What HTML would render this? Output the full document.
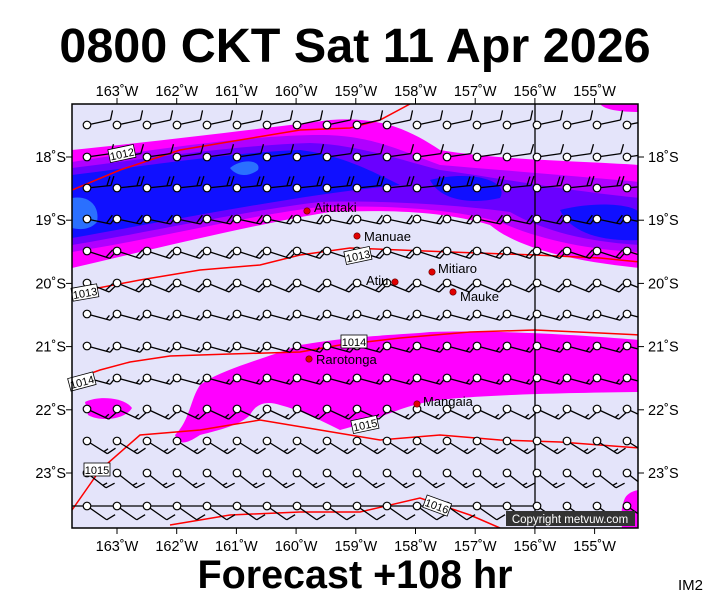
<!DOCTYPE html>
<html><head><meta charset="utf-8"><style>
body{margin:0;background:#fff;width:711px;height:600px;overflow:hidden;font-family:"Liberation Sans",sans-serif}
</style></head><body>
<svg id="s" width="711" height="600" xmlns="http://www.w3.org/2000/svg" font-family="Liberation Sans, sans-serif">
<defs><clipPath id="c"><rect x="72" y="104" width="566" height="424"/></clipPath></defs>
<text x="355" y="62" text-anchor="middle" font-size="48.5" font-weight="bold">0800 CKT Sat 11 Apr 2026</text>
<rect x="72" y="104" width="566" height="424" fill="#e4e4fa"/>
<g clip-path="url(#c)">
<path fill="#ff00ff" d="M72,150 C150,142 250,130 330,120 C380,116 410,130 440,150 C500,160 560,160 640,165 L640,268 C580,262 520,250 490,225 C440,210 380,210 330,212 C250,225 150,250 72,268Z"/>
<path fill="#b000ff" d="M72,162 C150,150 250,135 320,135 C370,135 400,150 440,165 C500,170 560,175 640,182 L640,252 C590,250 540,240 500,222 C450,208 380,205 320,207 C250,215 150,240 72,252Z"/>
<path fill="#6a00ff" d="M72,168 C150,158 240,145 310,143 C360,145 400,160 440,170 C500,178 560,190 640,198 L640,245 C590,242 545,232 510,212 C460,205 380,200 320,202 C250,210 150,232 72,245Z"/>
<path fill="#1010ff" d="M72,175 C150,165 240,152 300,150 C340,155 370,170 400,185 C300,195 200,215 72,238Z"/>
<path fill="#1010ff" d="M430,180 C470,170 510,180 500,198 C470,205 440,200 430,180Z"/>
<path fill="#1010ff" d="M560,210 C600,200 640,205 640,215 L640,240 C600,242 570,232 560,210Z"/>
<path fill="#2a70ff" d="M72,198 C90,195 100,207 97,222 C90,230 80,230 72,228Z"/>
<path fill="#2a70ff" d="M230,168 C242,158 262,160 258,170 C250,176 238,178 230,168Z"/>
<path fill="#ff00ff" d="M600,104 L640,104 L640,112 C620,112 605,110 600,104Z"/>
<path fill="#ff00ff" d="M175,435 C190,420 190,400 200,385 C220,370 260,360 300,345 C360,335 400,335 430,332 C500,330 580,335 640,340 L640,392 C560,393 480,395 440,400 C400,405 380,420 340,430 C320,420 300,410 280,405 C265,400 255,405 250,415 C240,425 220,430 200,435 C185,445 178,445 175,435Z"/>
<path fill="#ff00ff" d="M85,402 C100,395 125,398 132,408 C125,420 100,422 88,415Z"/>
<path fill="#ff00ff" d="M625,498 C630,490 640,490 640,490 L640,528 L622,528 C620,515 622,505 625,498Z"/>
<g fill="none" stroke="#ff0000" stroke-width="1.5">
<path d="M72,190 L120,170 L180,150 L240,140 L300,130 L350,128 L380,120 L410,104"/>
<path d="M72,293 L140,280 L200,270 L260,265 L300,255 L350,248 L400,250 L450,252 L535,255 L600,258 L640,262"/>
<path d="M72,380 L100,370 L130,362 L170,356 L230,354 L300,352 L340,345 L400,338 L470,332 L535,330 L600,333 L640,335"/>
<path d="M72,510 L100,470 L140,435 L200,430 L260,420 L320,430 L380,440 L440,435 L500,440 L560,442 L640,448"/>
<path d="M170,525 L230,515 L300,512 L360,512 L420,498 L470,515 L500,528"/>
</g>
<g id="barbs" stroke="#000" stroke-width="1.3" fill="none"></g>
</g>
<line x1="535" y1="104" x2="535" y2="528" stroke="#000" stroke-width="1.3"/>
<line x1="72" y1="506" x2="535" y2="506" stroke="#000" stroke-width="1.3"/>
<g id="circ" stroke="#000" stroke-width="1.2" fill="#fff"></g>
<g font-size="11" fill="#000">
<g transform="translate(122,154) rotate(-12)"><rect x="-13" y="-7" width="26" height="13" fill="#fff" stroke="#000" stroke-width=".8"/><text x="0" y="4" text-anchor="middle">1012</text></g>
<g transform="translate(85,293) rotate(-10)"><rect x="-13" y="-7" width="26" height="13" fill="#fff" stroke="#000" stroke-width=".8"/><text x="0" y="4" text-anchor="middle">1013</text></g>
<g transform="translate(358,256) rotate(-12)"><rect x="-13" y="-7" width="26" height="13" fill="#fff" stroke="#000" stroke-width=".8"/><text x="0" y="4" text-anchor="middle">1013</text></g>
<g transform="translate(354,342)"><rect x="-13" y="-7" width="26" height="13" fill="#fff" stroke="#000" stroke-width=".8"/><text x="0" y="4" text-anchor="middle">1014</text></g>
<g transform="translate(82,382) rotate(-15)"><rect x="-13" y="-7" width="26" height="13" fill="#fff" stroke="#000" stroke-width=".8"/><text x="0" y="4" text-anchor="middle">1014</text></g>
<g transform="translate(365,425) rotate(-12)"><rect x="-13" y="-7" width="26" height="13" fill="#fff" stroke="#000" stroke-width=".8"/><text x="0" y="4" text-anchor="middle">1015</text></g>
<g transform="translate(97,470)"><rect x="-13" y="-7" width="26" height="13" fill="#fff" stroke="#000" stroke-width=".8"/><text x="0" y="4" text-anchor="middle">1015</text></g>
<g transform="translate(437,506) rotate(20)"><rect x="-13" y="-7" width="26" height="13" fill="#fff" stroke="#000" stroke-width=".8"/><text x="0" y="4" text-anchor="middle">1016</text></g>
</g>
<g fill="#e00000" stroke="#600" stroke-width=".6">
<circle cx="307" cy="211" r="3.2"/><circle cx="357" cy="236" r="3.2"/><circle cx="432" cy="272" r="3.2"/>
<circle cx="395" cy="282" r="3.2"/><circle cx="453" cy="292" r="3.2"/><circle cx="309" cy="359" r="3.2"/><circle cx="417" cy="404" r="3.2"/>
</g>
<g font-size="13" fill="#000">
<text x="314" y="212">Aitutaki</text><text x="364" y="241">Manuae</text><text x="438" y="273">Mitiaro</text>
<text x="366" y="285">Atiu</text><text x="460" y="301">Mauke</text><text x="316" y="364">Rarotonga</text><text x="423" y="406">Mangaia</text>
</g>
<rect x="506" y="511" width="129" height="15" fill="#333"/>
<text x="570" y="523" text-anchor="middle" font-size="11.5" fill="#fff">Copyright metvuw.com</text>
<rect x="72" y="104" width="566" height="424" fill="none" stroke="#000" stroke-width="1.5"/>
<g id="ax" font-size="14.5" fill="#000"></g>
<text x="355" y="588" text-anchor="middle" font-size="39.5" font-weight="bold">Forecast +108 hr</text>
<text x="678" y="590" font-size="15">IM2</text>
</svg>
<script>
var NS="http://www.w3.org/2000/svg";
function el(p,t,a,txt){var e=document.createElementNS(NS,t);for(var k in a)e.setAttribute(k,a[k]);if(txt)e.textContent=txt;document.getElementById(p).appendChild(e);}
var rows=[125,157,188,219,251,283,314,346,378,409,441,473,506];
var ang=[-12,-8,-6,12,18,22,15,15,15,25,32,38,35];
var nb=[1,1,2,2,2,2,1.5,1.5,1.5,1.5,1.5,1.5,1];
for(var r=0;r<rows.length;r++){for(var i=0;i<19;i++){var x=87+30*i,y=rows[r];
 var a=ang[r]*Math.PI/180,L=24,ex=x+L*Math.cos(a),ey=y+L*Math.sin(a);
 var d="M"+x+","+y+"L"+ex+","+ey;
 var px=Math.sin(a),py=-Math.cos(a);
 var n=nb[r];
 for(var b=0;b<2;b++){var f=(b==0)?(n>=1?1:0):(n>=2?1:(n%1?0.5:0));if(!f)continue;
  var sx=x+(L-b*4)*Math.cos(a),sy=y+(L-b*4)*Math.sin(a),bl=9*f;
  d+="M"+sx+","+sy+"l"+(bl*px+4*f*Math.cos(a))+","+(bl*py+4*f*Math.sin(a));}
 el("barbs","path",{d:d});
 el("circ","circle",{cx:x,cy:y,r:3.8});}}
var lon=["163","162","161","160","159","158","157","156","155"];
for(var i=0;i<9;i++){var x=117+59.7*i;
 el("ax","text",{x:x,y:96,"text-anchor":"middle"},lon[i]+"˚W");
 el("ax","text",{x:x,y:551,"text-anchor":"middle"},lon[i]+"˚W");
 el("ax","line",{x1:x,y1:98,x2:x,y2:104,stroke:"#000"});el("ax","line",{x1:x,y1:528,x2:x,y2:534,stroke:"#000"});}
var lat=["18","19","20","21","22","23"];
for(var j=0;j<6;j++){var y=157+63.2*j;
 el("ax","text",{x:66,y:y+5,"text-anchor":"end"},lat[j]+"˚S");
 el("ax","text",{x:648,y:y+5},lat[j]+"˚S");
 el("ax","line",{x1:66,y1:y,x2:72,y2:y,stroke:"#000"});el("ax","line",{x1:638,y1:y,x2:644,y2:y,stroke:"#000"});}
</script>
</body></html>
